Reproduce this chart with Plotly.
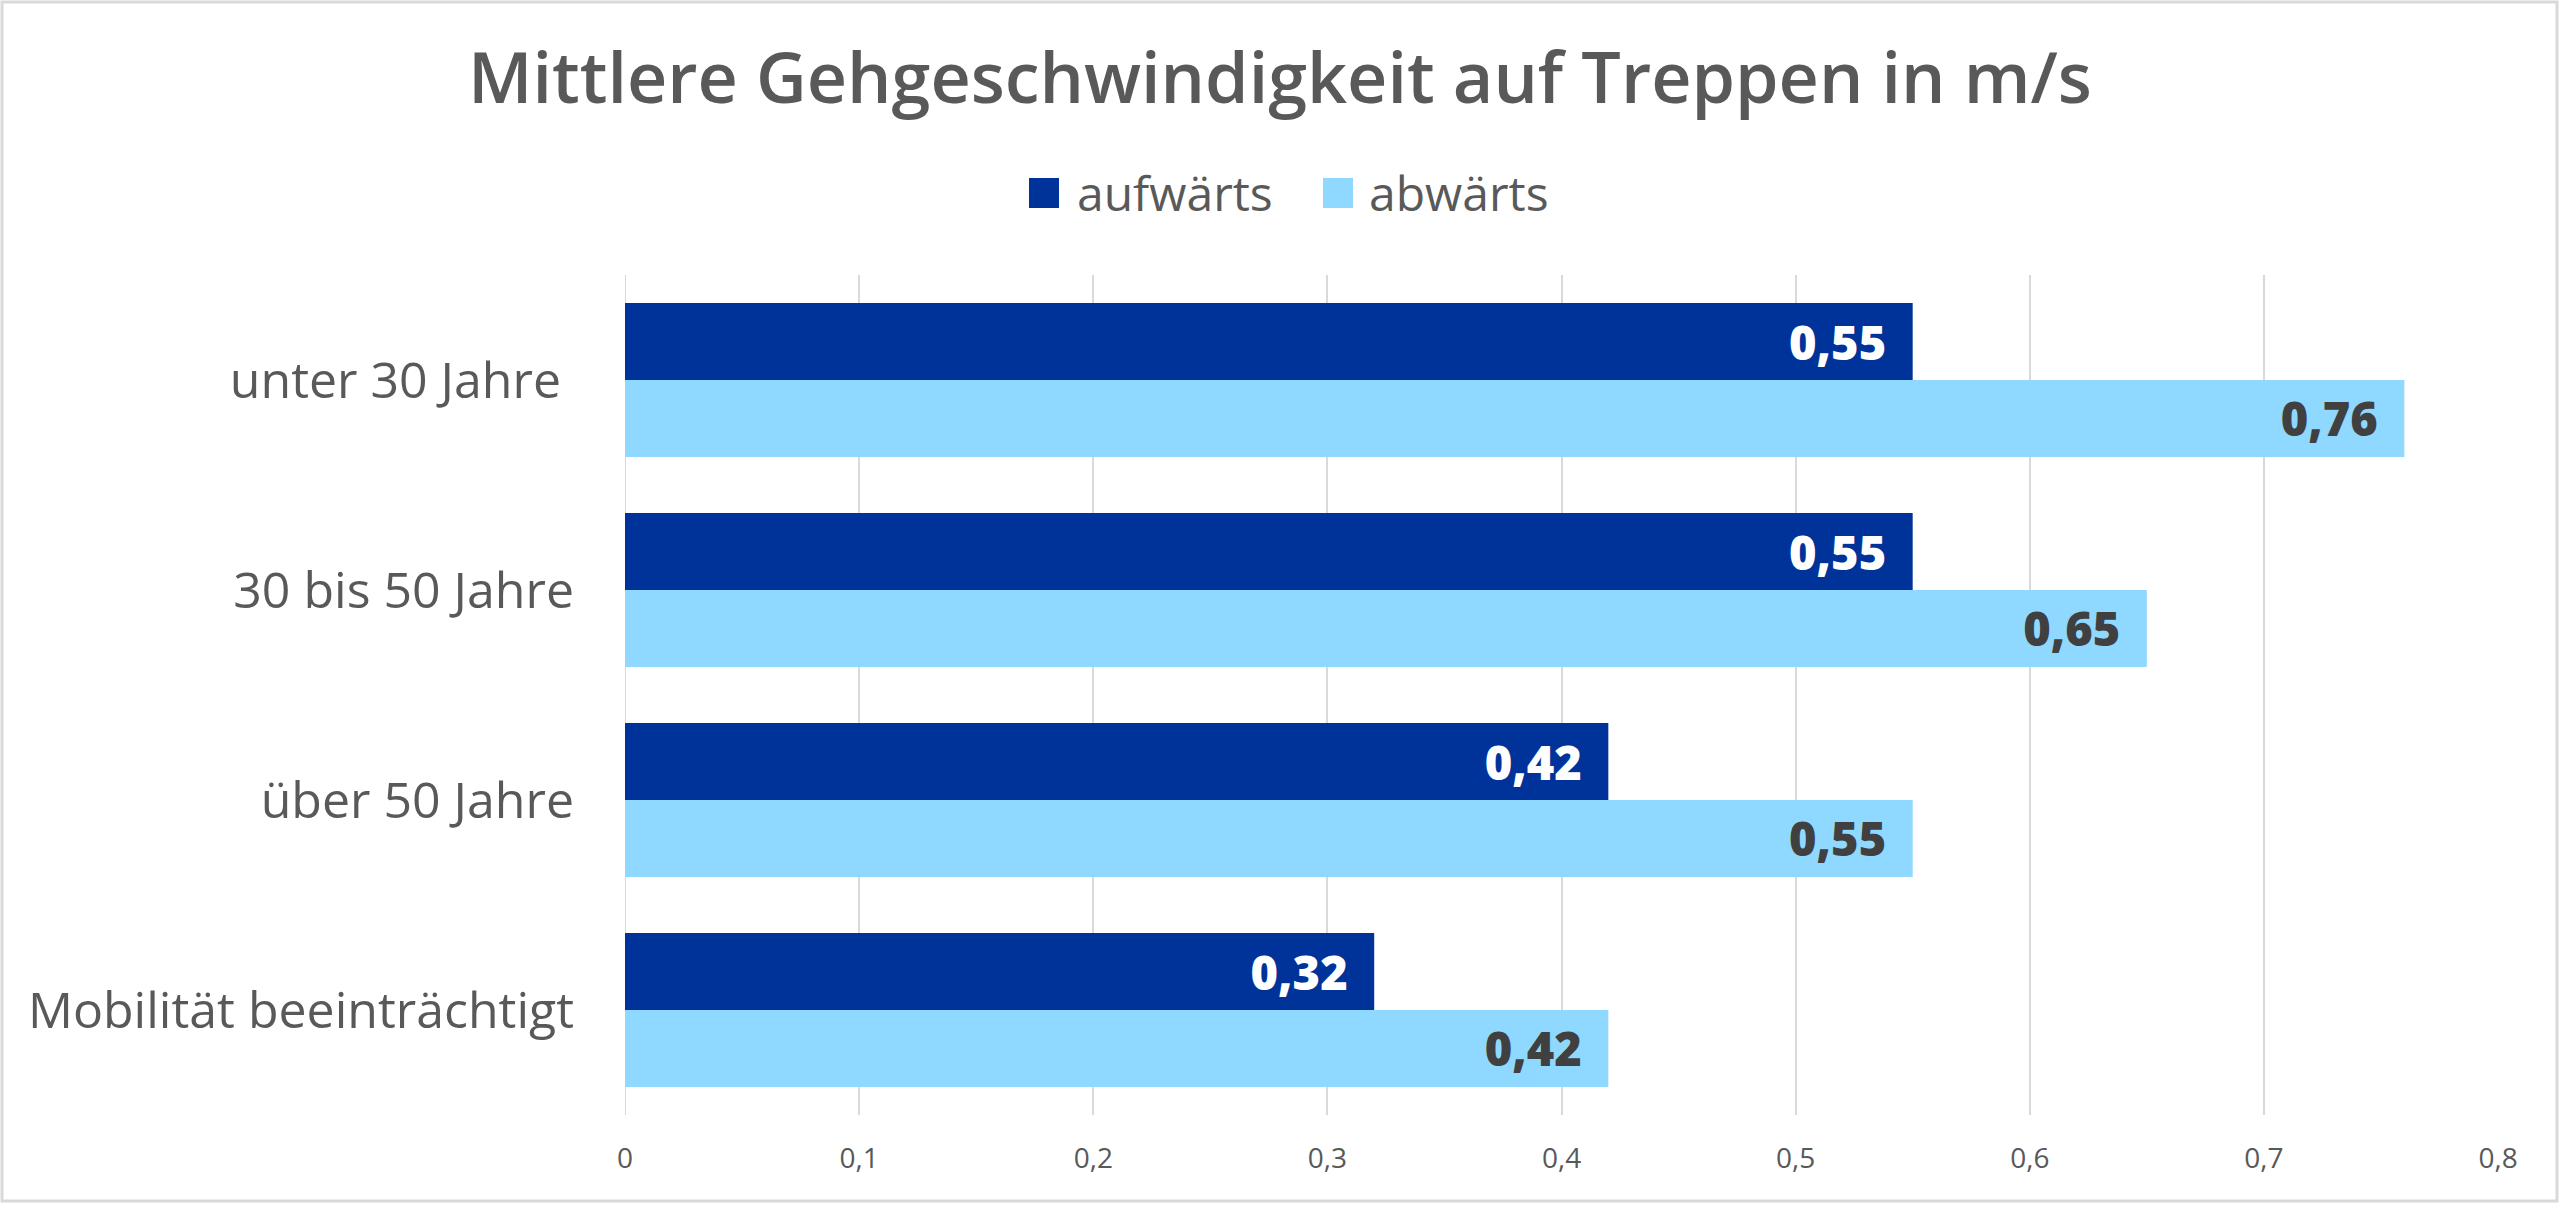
import plotly.graph_objects as go

categories = ["unter 30 Jahre\u00a0", "30 bis 50 Jahre", "über 50 Jahre", "Mobilität beeinträchtigt"]
series_names = ["aufwärts", "abwärts"]
aufwaerts = [0.55, 0.55, 0.42, 0.32]
abwaerts = [0.76, 0.65, 0.55, 0.42]
x_ticks = [0, 0.1, 0.2, 0.3, 0.4, 0.5, 0.6, 0.7, 0.8]
x_tick_labels = ["0", "0,1", "0,2", "0,3", "0,4", "0,5", "0,6", "0,7", "0,8"]

W, H = 2560, 1206
ml, mr, mt, mb = 625, 62, 275, 91
pw, ph = W - ml - mr, H - mt - mb
FONT = "Open Sans"
GRAY = "#595959"
DARK = "#003399"
LIGHT = "#8FD8FF"


def px_x(px):
    return (px - ml) / pw


def px_y(py):
    return (H - mb - py) / ph


fig = go.Figure()
for name, vals, col, tcol in [(series_names[0], aufwaerts, DARK, "white"),
                              (series_names[1], abwaerts, LIGHT, "#404040")]:
    fig.add_trace(go.Bar(
        name=name, y=categories, x=vals, orientation="h",
        marker=dict(color=col, line=dict(width=0)),
        texttemplate="%{x:.2f}\u2002", textposition="inside", insidetextanchor="end",
        constraintext="none",
        textfont=dict(family=FONT, size=47, color=tcol, weight=800),
        hoverinfo="skip", showlegend=False,
    ))

# outer border
fig.add_shape(type="rect", xref="paper", yref="paper",
              x0=px_x(2), x1=px_x(W - 3), y0=px_y(H - 5), y1=px_y(2),
              line=dict(color="#D9D9D9", width=3), layer="below")

# manual legend (larger square markers like the original)
legend_items = [(series_names[0], DARK, 1029, 1075), (series_names[1], LIGHT, 1323, 1367)]
for name, col, sx, tx in legend_items:
    fig.add_shape(type="rect", xref="paper", yref="paper",
                  x0=px_x(sx), x1=px_x(sx + 30), y0=px_y(208), y1=px_y(178),
                  fillcolor=col, line=dict(width=0))
    fig.add_annotation(text=name, xref="paper", yref="paper",
                       x=px_x(tx), y=px_y(193), xanchor="left", yanchor="middle",
                       showarrow=False,
                       font=dict(family=FONT, size=48, color=GRAY))

fig.update_layout(
    width=W, height=H,
    margin=dict(l=ml, r=mr, t=mt, b=mb),
    paper_bgcolor="white", plot_bgcolor="white",
    separators=",.",
    barmode="group", bargap=0.267, bargroupgap=0,
    title=dict(text="Mittlere Gehgeschwindigkeit auf Treppen in m/s",
               x=0.5, xanchor="center", xref="container",
               y=1 - 78 / H, yanchor="middle", yref="container",
               font=dict(family=FONT, size=70, color=GRAY, weight=600)),
    showlegend=False,
    xaxis=dict(range=[0, 0.8], tickvals=x_ticks, ticktext=x_tick_labels,
               showgrid=True, gridcolor="#D9D9D9", gridwidth=2,
               zeroline=False, showline=False,
               tickfont=dict(family=FONT, size=28, color=GRAY),
               ticks="", ticklabelstandoff=24, fixedrange=True),
    yaxis=dict(autorange="reversed", showgrid=False, zeroline=False,
               showline=False, ticks="",
               tickfont=dict(family=FONT, size=50, color=GRAY),
               ticklabelstandoff=50, fixedrange=True),
)
fig.add_vline(x=0, line=dict(color="#D9D9D9", width=2), layer="below")

fig.write_html("out.html", config={"displayModeBar": False},
               post_script="document.body.style.margin='0';")
